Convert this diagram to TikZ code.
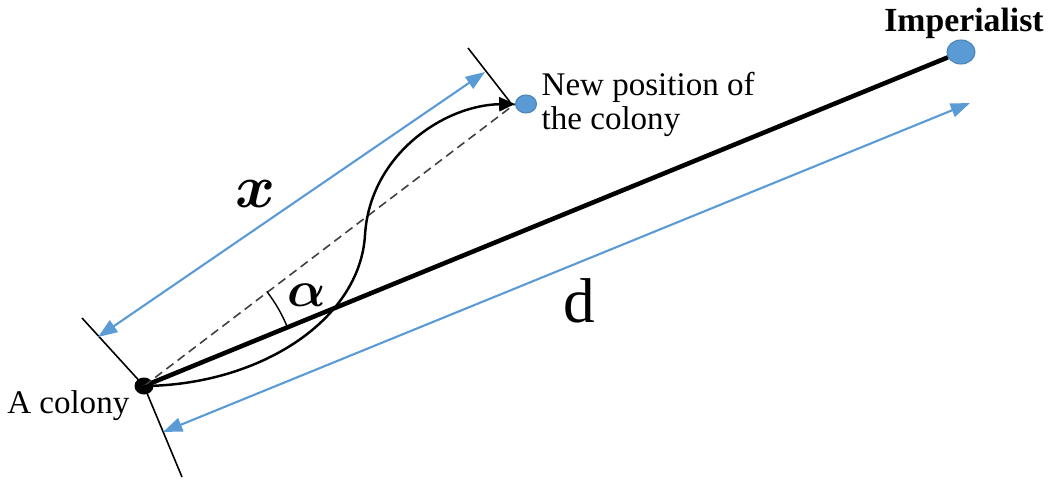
\documentclass[tikz,border=0pt]{standalone}
\usepackage{fontspec}
\setmainfont{Liberation Serif}
\usetikzlibrary{calc,arrows.meta,shapes.geometric}
\definecolor{dimblue}{HTML}{5B9BD5}

\begin{document}
\begin{tikzpicture}[>={Triangle[length=5.5pt,width=4pt]},font=\fontsize{9.4}{8.5}\selectfont,
    dimline/.style={<->,dimblue,line width=0.6pt},
    tickline/.style={line width=0.45pt},
    dot/.style={inner sep=0pt,fill=dimblue,draw=dimblue!85!black,line width=0.3pt}]
    \useasboundingbox (0,0) rectangle (10.48,4.79);

    %======================================================
    % positions
    %======================================================
    \node[ellipse,fill=black,inner sep=0pt,minimum width=0.19cm,minimum height=0.17cm] (col) at (1.44,0.93) {};
    \node[dot,ellipse,minimum width=0.21cm,minimum height=0.18cm] (newpos) at (5.26,3.75) {};
    \node[dot,ellipse,minimum width=0.28cm,minimum height=0.24cm] (imp) at (9.61,4.27) {};

    % ends of the ticks and of the dimension arrows
    \coordinate (tkA) at (0.82,1.61);
    \coordinate (tkB) at (1.82,0.02);
    \coordinate (tkC) at (4.68,4.31);
    \coordinate (tkD) at (5.10,3.77);
    \coordinate (xA) at (0.98,1.42);
    \coordinate (xB) at (4.85,4.07);
    \coordinate (dA) at (1.63,0.47);
    \coordinate (dB) at (9.70,3.76);

    % ticks
    \draw[tickline] (tkA) -- (col.center) -- (tkB);
    \draw[tickline] (tkC) -- (tkD);

    % dimension arrows
    \draw[dimline] (xA) -- (xB);
    \draw[dimline] (dA) -- (dB);

    % straight way to the imperialist
    \draw[line width=1.3pt] (col.center) -- (imp);

    % direct line to the new position
    \draw[black!75,line width=0.45pt,dash pattern=on 2.5pt off 1.5pt] (col.center) -- (newpos.west);

    % movement of the colony
    \draw[-{Triangle[length=4.5pt,width=4pt]},line width=0.7pt] (col.center)
        .. controls (2.60,0.94) and (3.60,1.59) .. (3.65,2.44)
        .. controls (3.70,3.25) and (4.45,3.74) .. (newpos.west);

    % angle alpha
    \draw[line width=0.4pt] ($(col.center)+(22.3:1.55)$) arc[start angle=22.3,end angle=37.6,radius=1.55];

    %======================================================
    % labels
    %======================================================
    \node[anchor=base east,inner sep=0pt] (lcol) at (1.30,0.66) {A colony};
    \node[anchor=north west,align=left,inner sep=0pt] (lnew) at (5.41,4.07)
        {New position of\\the colony};
    \node[anchor=base,inner sep=0pt,font=\fontsize{9.6}{9}\bfseries] (limp) at (9.64,4.47) {Imperialist};
    \node[font=\fontsize{16}{16}\selectfont\boldmath] (lx) at (2.56,2.85) {$x$};
    \node[font=\fontsize{15}{15}\selectfont\boldmath] (lalpha) at (3.07,1.84) {$\alpha$};
    \node[font=\fontsize{18}{18}\selectfont] (ld) at (5.79,1.78) {d};
\end{tikzpicture}
\end{document}
